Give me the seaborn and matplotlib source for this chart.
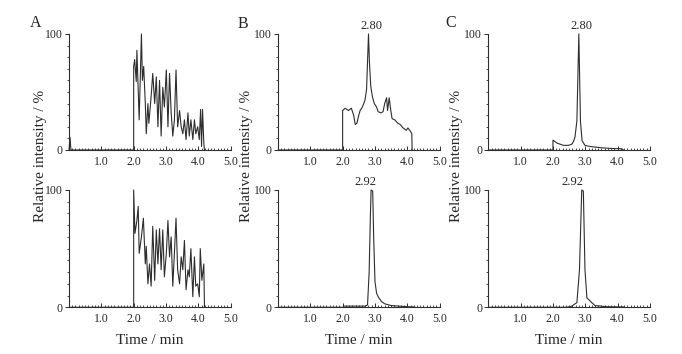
import matplotlib
matplotlib.use("Agg")
import matplotlib.pyplot as plt
from matplotlib.ticker import MultipleLocator
import seaborn as sns
import pandas as pd

sns.set_style("ticks")
plt.rcParams['font.family'] = ['Liberation Serif', 'DejaVu Serif']

# ---- data (time in min, relative intensity in %) ----
a1_t = [0.0, 0.03, 0.06, 2.0, 2.0, 2.03, 2.08, 2.10, 2.17, 2.24, 2.27, 2.31, 2.36, 2.39,
        2.44, 2.47, 2.54, 2.59, 2.65, 2.70, 2.75, 2.80, 2.85, 2.90, 2.95, 3.01, 3.06,
        3.11, 3.16, 3.21, 3.26, 3.31, 3.36, 3.42, 3.47, 3.52, 3.57, 3.62, 3.68, 3.72,
        3.77, 3.83, 3.88, 3.92, 3.98, 4.03, 4.07, 4.10, 4.13, 4.17, 4.19]
a1_y = [0, 11, 0, 0, 72, 78, 59, 86, 26, 100, 60, 72, 40, 14,
        40, 23, 46, 66, 40, 63, 20, 60, 12, 54, 37, 69, 20,
        66, 32, 12, 26, 69, 20, 34, 20, 14, 26, 9, 32, 12,
        26, 9, 26, 14, 20, 9, 35, 3, 35, 6, 0]

a2_t = [0.0, 2.0, 2.0, 2.04, 2.10, 2.14, 2.17, 2.24, 2.30, 2.36, 2.39, 2.44, 2.49, 2.54,
        2.59, 2.65, 2.70, 2.75, 2.80, 2.85, 2.90, 2.95, 3.01, 3.06, 3.11, 3.16, 3.21,
        3.26, 3.31, 3.36, 3.42, 3.47, 3.52, 3.57, 3.62, 3.68, 3.72, 3.77, 3.83, 3.88,
        3.92, 3.98, 4.03, 4.06, 4.11, 4.17, 4.19]
a2_y = [0, 0, 100, 63, 74, 86, 46, 60, 76, 37, 52, 20, 37, 18,
        69, 23, 66, 37, 67, 32, 66, 26, 46, 74, 43, 60, 18,
        46, 76, 32, 20, 43, 32, 57, 15, 32, 26, 50, 9, 43,
        18, 20, 9, 50, 23, 37, 0]

b1_t = [0.0, 2.0, 2.0, 2.08, 2.18, 2.27, 2.34, 2.39, 2.44, 2.49, 2.54, 2.59, 2.64, 2.69,
        2.74, 2.80, 2.83, 2.87, 2.92, 2.98, 3.05, 3.10, 3.18, 3.25, 3.30, 3.36, 3.39,
        3.44, 3.49, 3.53, 3.61, 3.71, 3.78, 3.87, 3.97, 4.02, 4.10, 4.14, 4.15]
b1_y = [0, 0, 34, 36, 34, 36, 30, 22, 23, 29, 34, 36, 39, 43,
        52, 100, 75, 55, 46, 40, 37, 33, 32, 33, 40, 45, 34,
        45, 34, 27, 26, 23, 22, 19, 17, 19, 16, 14, 0]

b2_t = [0.0, 2.0, 2.05, 2.70, 2.77, 2.82, 2.86, 2.88, 2.93, 2.96, 3.00, 3.05, 3.10,
        3.20, 3.30, 3.50, 4.00, 4.20, 4.25]
b2_y = [0, 0, 1, 1, 2, 30, 80, 100, 99, 60, 22, 12, 9,
        5, 3, 1.5, 0.5, 0.3, 0]

c1_t = [0.0, 2.0, 2.0, 2.12, 2.22, 2.32, 2.48, 2.58, 2.63, 2.68, 2.74, 2.80, 2.85,
        2.90, 2.99, 3.15, 3.46, 3.77, 4.13, 4.18]
c1_y = [0, 0, 8.5, 6, 5, 4, 4, 5, 7, 11, 25, 100, 25,
        8, 4, 3, 2, 1.4, 1, 0]

c2_t = [0.0, 2.43, 2.58, 2.74, 2.82, 2.89, 2.94, 2.99, 3.05, 3.13, 3.20, 3.30, 3.66,
        4.18, 4.20]
c2_y = [0, 0, 1, 4, 32, 100, 99, 32, 8, 6, 4, 1.5, 0.5,
        0.3, 0]

peak_labels = ["2.80", "2.92"]
x_tick_vals = [1, 2, 3, 4, 5]
x_tick_labels = ["1.0", "2.0", "3.0", "4.0", "5.0"]
y_tick_vals = [0, 100]
y_tick_labels = ["0", "100"]
panel_letters = ["A", "B", "C"]

traces = [
    [(a1_t, a1_y, None), (a2_t, a2_y, None)],
    [(b1_t, b1_y, (2.80, peak_labels[0], 2)), (b2_t, b2_y, (2.905, peak_labels[1], -5))],
    [(c1_t, c1_y, (2.80, peak_labels[0], 2)), (c2_t, c2_y, (2.915, peak_labels[1], -7))],
]

fig = plt.figure(figsize=(6.82, 3.54), dpi=100)

lefts = [0.1012, 0.4076, 0.716]
bottoms = [0.5763, 0.1319]
heights = [0.3277, 0.3314]
width = 0.237
line_color = "#2e2e2e"

for col in range(3):
    for row in range(2):
        ax = fig.add_axes([lefts[col], bottoms[row], width, heights[row]])
        t, y, lab = traces[col][row]
        df = pd.DataFrame({"Time": t, "Intensity": y})
        sns.lineplot(data=df, x="Time", y="Intensity", ax=ax, estimator=None, sort=False,
                     color=line_color, linewidth=0.8)
        for ln in ax.get_lines():
            ln.set_clip_on(False)
        ax.set_xlim(0, 5)
        ax.set_ylim(0, 100)
        ax.set_xticks(x_tick_vals)
        ax.set_xticklabels(x_tick_labels)
        ax.set_yticks(y_tick_vals)
        ax.set_yticklabels(y_tick_labels)
        ax.xaxis.set_minor_locator(MultipleLocator(0.1))
        ax.yaxis.set_minor_locator(MultipleLocator(10))
        ax.tick_params(axis="x", which="major", direction="in", length=3, width=0.7,
                       labelsize=8.5, pad=4, color=line_color)
        ax.tick_params(axis="x", which="minor", direction="in", length=1.6, width=0.6,
                       color=line_color)
        ax.tick_params(axis="y", which="major", direction="out", length=3, width=0.7,
                       labelsize=8.5, pad=1.5, color=line_color)
        ax.tick_params(axis="y", which="minor", direction="out", length=1.5, width=0.6,
                       color=line_color)
        ax.set_xlabel("")
        ax.set_ylabel("")
        sns.despine(ax=ax)
        for s in ["left", "bottom"]:
            ax.spines[s].set_linewidth(0.8)
            ax.spines[s].set_color(line_color)
        ax.patch.set_alpha(0)
        if lab is not None:
            ax.annotate(lab[1], xy=(lab[0], 100), xytext=(lab[2], 1.5),
                        textcoords="offset points", ha="center", va="bottom",
                        fontsize=9, annotation_clip=False)
        if row == 1:
            cx = lefts[col] + width / 2
            fig.text(cx, 0.037, "Time / min", ha="center", va="center", fontsize=11)

ylabel_x = [0.0587, 0.362, 0.670]
letter_xy = [(0.0528, 0.935), (0.356, 0.932), (0.661, 0.935)]
for col in range(3):
    fig.text(ylabel_x[col], 0.559, "Relative intensity / %", rotation=90,
             ha="center", va="center", fontsize=11)
    fig.text(letter_xy[col][0], letter_xy[col][1], panel_letters[col],
             ha="center", va="center", fontsize=11.5)

fig.savefig("out.png", dpi=100)
